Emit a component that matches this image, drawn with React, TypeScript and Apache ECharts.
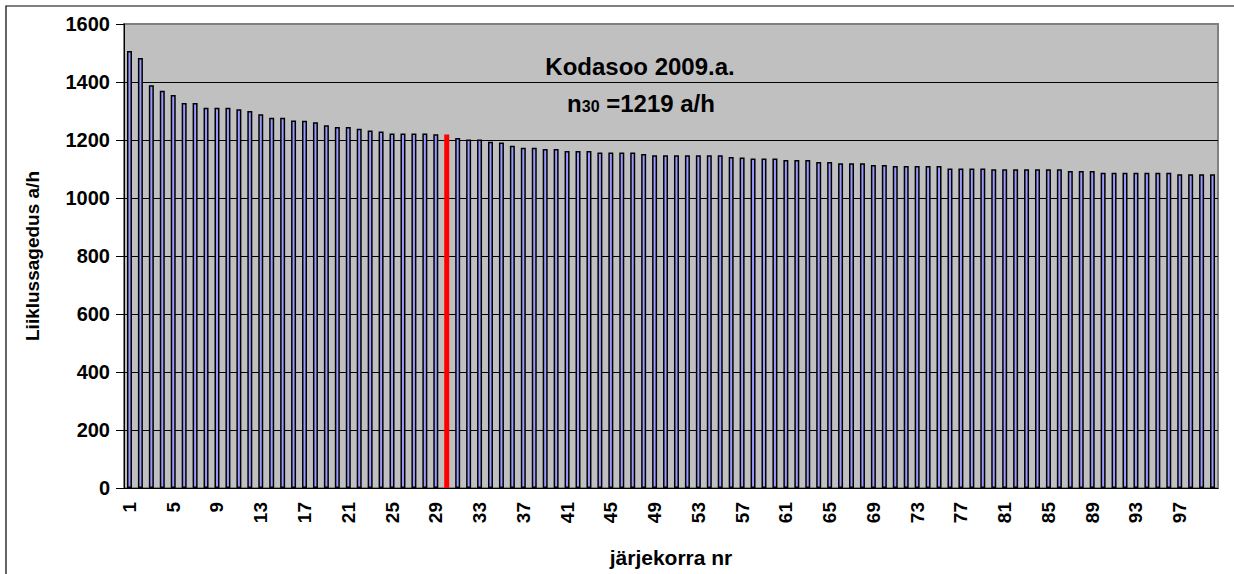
import React, { useEffect, useRef } from "react";
import * as echarts from "echarts";

const categories: string[] = Array.from({ length: 100 }, (_, i) => String(i + 1));

const values: number[] = [
  1507, 1483, 1389, 1370, 1355, 1328, 1328, 1311, 1311, 1311,
  1306, 1300, 1289, 1277, 1277, 1267, 1266, 1261, 1251, 1245,
  1245, 1239, 1233, 1229, 1222, 1222, 1222, 1222, 1220, 1219,
  1207, 1202, 1202, 1194, 1191, 1180, 1173, 1173, 1169, 1169,
  1162, 1162, 1162, 1157, 1157, 1157, 1157, 1152, 1147, 1147,
  1147, 1147, 1147, 1147, 1147, 1141, 1140, 1136, 1136, 1136,
  1131, 1131, 1131, 1124, 1124, 1120, 1120, 1120, 1114, 1114,
  1110, 1110, 1110, 1110, 1110, 1102, 1102, 1102, 1102, 1099,
  1099, 1099, 1099, 1099, 1099, 1099, 1093, 1093, 1093, 1087,
  1087, 1087, 1087, 1087, 1087, 1087, 1082, 1082, 1082, 1082,
];

const highlightIndex = 29; // n30
const titleText = "Kodasoo 2009.a.";
const xName = "järjekorra nr";
const yName = "Liiklussagedus a/h";

const FONT = "'Liberation Sans', Arial, sans-serif";

export default function App() {
  const ref = useRef<HTMLDivElement>(null);

  useEffect(() => {
    if (!ref.current) return;
    const chart = echarts.init(ref.current, undefined, { renderer: "svg" });
    const splitColors = ["#000", "#000", "#000", "#000", "#000", "#000", "#000", "#000", "#808080"];
    chart.setOption({
      animation: false,
      backgroundColor: "#ffffff",
      grid: {
        left: 124,
        right: 16,
        top: 24,
        bottom: 86,
        show: true,
        backgroundColor: "#C0C0C0",
        borderColor: "#808080",
        borderWidth: 2,
      },
      xAxis: {
        type: "category",
        data: categories,
        boundaryGap: true,
        name: xName,
        nameLocation: "middle",
        nameGap: 59,
        nameTextStyle: { fontFamily: FONT, fontWeight: "bold", fontSize: 21, color: "#000" },
        axisLine: { lineStyle: { color: "#000", width: 1 } },
        axisTick: { interval: 0, length: 6, lineStyle: { color: "#000" } },
        axisLabel: {
          interval: 3,
          rotate: 90,
          margin: 14,
          fontFamily: FONT,
          fontWeight: "bold",
          fontSize: 19,
          color: "#000",
        },
        splitLine: { show: false },
      },
      yAxis: {
        type: "value",
        min: 0,
        max: 1600,
        interval: 200,
        name: yName,
        nameLocation: "middle",
        nameGap: 82,
        nameTextStyle: { fontFamily: FONT, fontWeight: "bold", fontSize: 19, color: "#000" },
        axisLine: { show: true, lineStyle: { color: "#000", width: 1 } },
        axisTick: { show: true, length: 8, lineStyle: { color: "#000" } },
        axisLabel: {
          margin: 14,
          fontFamily: FONT,
          fontWeight: "bold",
          fontSize: 20,
          color: "#000",
          formatter: (v: number) => String(v),
        },
        splitLine: { show: true, lineStyle: { color: splitColors, width: 1 } },
      },
      series: [
        {
          type: "bar",
          data: values.map((v, i) =>
            i === highlightIndex
              ? { value: v, itemStyle: { color: "#FF0000", borderColor: "#FF0000", borderWidth: 3 } }
              : v
          ),
          barWidth: 5,
          itemStyle: { color: "#9999FF", borderColor: "#000", borderWidth: 1.5 },
        },
      ],
      graphic: [
        {
          type: "rect",
          silent: true,
          z: 100,
          shape: { x: 6, y: 6, width: 1400, height: 800 },
          style: { fill: "none", stroke: "#000", lineWidth: 1.2 },
        },
        {
          type: "text",
          z: 100,
          x: 640,
          y: 66,
          style: {
            text: titleText,
            fontFamily: FONT,
            fontWeight: "bold",
            fontSize: 24,
            fill: "#000",
            align: "center",
            verticalAlign: "middle",
          },
        },
        {
          type: "text",
          z: 100,
          x: 641,
          y: 103,
          style: {
            text: "{a|n}{b|30}{a| =" + values[highlightIndex] + " a/h}",
            align: "center",
            verticalAlign: "middle",
            rich: {
              a: { fontFamily: FONT, fontWeight: "bold", fontSize: 24, fill: "#000", verticalAlign: "bottom" },
              b: { fontFamily: FONT, fontWeight: "bold", fontSize: 16, fill: "#000", verticalAlign: "bottom", padding: [0, 0, 1, 0] },
            },
          },
        },
      ],
    });
    return () => chart.dispose();
  }, []);

  return (
    <div
      ref={ref}
      style={{ position: "absolute", left: 0, top: 0, width: 1234, height: 574 }}
    />
  );
}
